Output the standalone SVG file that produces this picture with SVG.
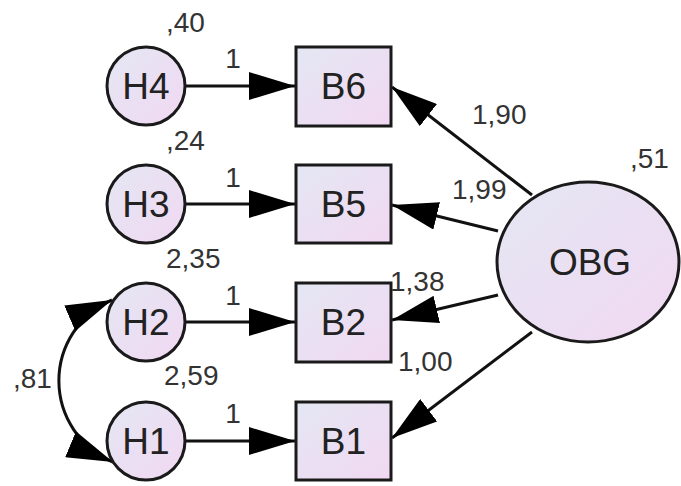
<svg xmlns="http://www.w3.org/2000/svg" width="681" height="486" viewBox="0 0 681 486">
<style>
.node{stroke:#1a1a1a;stroke-width:3;fill:url(#g)}
.edge{stroke:#111;stroke-width:3;fill:none}
.nl{font-family:"Liberation Sans",Arial,sans-serif;font-size:37px;fill:#222;text-anchor:middle}
.lb{font-family:"Liberation Sans",Arial,sans-serif;font-size:28px;fill:#333}
</style>
<defs>
<linearGradient id="g" x1="0" y1="0" x2="1" y2="1">
<stop offset="0" stop-color="#e4e7f3"/>
<stop offset="1" stop-color="#f1d8f2"/>
</linearGradient>
<marker id="ah" markerUnits="userSpaceOnUse" markerWidth="46" markerHeight="28" refX="46" refY="14" orient="auto-start-reverse" viewBox="0 0 46 28">
<path d="M0,0 L46,14 L0,28 z" fill="#000"/>
</marker>
</defs>
<g id="connectors">
<line class="edge" x1="185" y1="86" x2="295" y2="86" marker-end="url(#ah)"/>
<line class="edge" x1="185" y1="204" x2="295" y2="204" marker-end="url(#ah)"/>
<line class="edge" x1="185" y1="322" x2="295" y2="322" marker-end="url(#ah)"/>
<line class="edge" x1="185" y1="441" x2="295" y2="441" marker-end="url(#ah)"/>
<line class="edge" x1="532" y1="195" x2="392" y2="87" marker-end="url(#ah)"/>
<line class="edge" x1="498" y1="231" x2="392" y2="205" marker-end="url(#ah)"/>
<line class="edge" x1="498" y1="295" x2="392" y2="320" marker-end="url(#ah)"/>
<line class="edge" x1="532" y1="332" x2="392" y2="438" marker-end="url(#ah)"/>
<path class="edge" d="M112,300 A88,88 0 0 0 113,462" marker-start="url(#ah)" marker-end="url(#ah)"/>
</g>
<g id="H4"><circle class="node" cx="146" cy="86" r="39"/><text class="nl" x="146" y="99">H4</text></g>
<g id="H3"><circle class="node" cx="146" cy="204" r="39"/><text class="nl" x="146" y="217">H3</text></g>
<g id="H2"><circle class="node" cx="146" cy="322" r="39"/><text class="nl" x="146" y="335">H2</text></g>
<g id="H1"><circle class="node" cx="146" cy="441" r="39"/><text class="nl" x="146" y="454">H1</text></g>
<g id="B6"><rect class="node" x="296" y="47" width="95" height="79"/><text class="nl" x="343.5" y="99">B6</text></g>
<g id="B5"><rect class="node" x="296" y="165" width="95" height="78"/><text class="nl" x="343.5" y="217">B5</text></g>
<g id="B2"><rect class="node" x="296" y="283" width="95" height="79"/><text class="nl" x="343.5" y="335">B2</text></g>
<g id="B1"><rect class="node" x="296" y="402" width="95" height="78"/><text class="nl" x="343.5" y="454">B1</text></g>
<g id="OBG"><ellipse class="node" cx="588" cy="262" rx="91" ry="80"/><text class="nl" x="590" y="275">OBG</text></g>
<g id="labels">
<text class="lb" x="166" y="32">,40</text>
<text class="lb" x="166" y="150">,24</text>
<text class="lb" x="166" y="268">2,35</text>
<text class="lb" x="164" y="385">2,59</text>
<text class="lb" x="233" y="68" text-anchor="middle">1</text>
<text class="lb" x="233" y="187" text-anchor="middle">1</text>
<text class="lb" x="233" y="305" text-anchor="middle">1</text>
<text class="lb" x="233" y="423" text-anchor="middle">1</text>
<text class="lb" x="13" y="388">,81</text>
<text class="lb" x="630" y="168">,51</text>
<text class="lb" x="472" y="124">1,90</text>
<text class="lb" x="452" y="199">1,99</text>
<text class="lb" x="390" y="291">1,38</text>
<text class="lb" x="398" y="371">1,00</text>
</g>
</svg>
